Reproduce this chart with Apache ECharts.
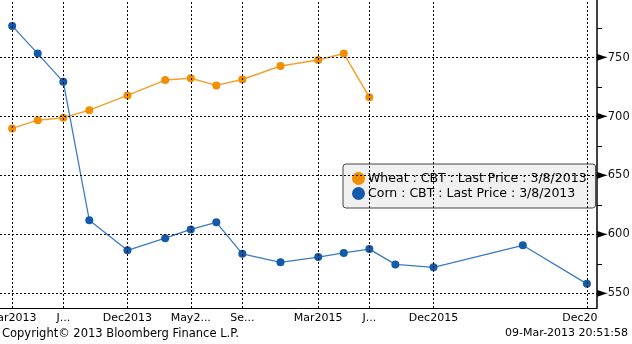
<!DOCTYPE html>
<html>
<head>
<meta charset="utf-8">
<script src="https://cdn.jsdelivr.net/npm/echarts@6/dist/echarts.min.js"></script>
<style>
  html, body { margin: 0; padding: 0; background: #fff; }
  #chart { width: 632px; height: 344px; }
</style>
</head>
<body>
<div id="chart"></div>
<script>
// Futures curve: contract month vs last price (cents/bu)
const contracts = [
  '2013-03-15', '2013-05-15', '2013-07-15', '2013-09-15', '2013-12-15',
  '2014-03-15', '2014-05-15', '2014-07-15', '2014-09-15', '2014-12-15',
  '2015-03-15', '2015-05-15', '2015-07-15', '2015-09-15', '2015-12-15',
  '2016-07-15', '2016-12-15'
];
const wheatPrices = [690, 697, 699, 705.5, 718, 731, 732.5, 726.5, 731.5, 743, 748, 753.5, 716.5];
const cornPrices = [777, 753.5, 729.5, 612, 586.5, 596.75, 604.25, 610.25, 583.5, 576.25, 580.75, 584.25, 587.5, 574.5, 572, 590.75, 558];

const wheatName = 'Wheat : CBT : Last Price : 3/8/2013';
const cornName = 'Corn : CBT : Last Price : 3/8/2013';

// Labelled contract months on the date axis
const xTickDates = ['2013-03-15', '2013-07-15', '2013-12-15', '2014-05-15', '2014-09-15', '2015-03-15', '2015-07-15', '2015-12-15', '2016-12-15'];
const xTickLabels = ['Mar2013', 'J...', 'Dec2013', 'May2...', 'Se...', 'Mar2015', 'J...', 'Dec2015', 'Dec2016'];
const xRange = ['2013-02-14', '2017-01-08'];
const yTicks = [550, 600, 650, 700, 750];
const yMinorTicks = [575, 625, 675, 725, 775];

const FONT = 'DejaVu Sans';

// dates are placed on a plain value axis as UTC milliseconds
const toTime = s => Date.parse(s + 'T00:00:00Z');
const xTickTimes = xTickDates.map(toTime);
const labelAt = v => {
  const i = xTickTimes.indexOf(v);
  return i >= 0 ? xTickLabels[i] : '';
};

const wheatData = wheatPrices.map((v, i) => [toTime(contracts[i]), v]);
const cornData = cornPrices.map((v, i) => [toTime(contracts[i]), v]);

const gridLineStyle = { color: '#000', width: 1, type: [2, 2] };

const chart = echarts.init(document.getElementById('chart'), null, { renderer: 'canvas' });
chart.setOption({
  animation: false,
  backgroundColor: '#fff',
  textStyle: { fontFamily: FONT },
  grid: { left: 0, right: 35, top: 0, bottom: 36, containLabel: false, outerBoundsMode: 'none' },
  legend: {
    data: [wheatName, cornName],
    orient: 'vertical',
    left: 343,
    top: 164,
    z: 1,
    icon: 'circle',
    itemWidth: 13,
    itemHeight: 13,
    itemGap: 2,
    padding: [8, 9, 8, 9],
    backgroundColor: '#f0f0f0',
    borderColor: '#444',
    borderWidth: 1,
    borderRadius: 3,
    selectedMode: false,
    textStyle: { fontFamily: FONT, fontSize: 12.5, color: '#000', padding: [0, 0, 0, -2] }
  },
  xAxis: {
    type: 'value',
    min: toTime(xRange[0]),
    max: toTime(xRange[1]),
    axisLine: { show: true, lineStyle: { color: '#000', width: 1 } },
    axisTick: { show: false },
    splitLine: { show: false },
    axisLabel: {
      customValues: xTickTimes,
      margin: 5,
      fontFamily: FONT,
      fontSize: 11,
      color: '#000',
      formatter: v => labelAt(v)
    }
  },
  yAxis: {
    type: 'value',
    position: 'right',
    min: 537.5,
    max: 799,
    axisLine: { show: true, lineStyle: { color: '#000', width: 1.5 } },
    splitLine: { show: false },
    axisTick: { show: true, customValues: yMinorTicks, length: 5, lineStyle: { color: '#000' } },
    axisLabel: {
      customValues: yTicks,
      margin: 0,
      formatter: v => '{t|\u25BA}{n|' + v + '}',
      rich: {
        t: { fontFamily: FONT, fontSize: 14, color: '#000' },
        n: { fontFamily: FONT, fontSize: 11.5, color: '#111' }
      }
    }
  },
  graphic: [
    // keep the last x label inside the plot width
    { type: 'rect', left: 598, top: 310, shape: { width: 34, height: 16 }, style: { fill: '#fff' }, z: 100 },
    { type: 'text', left: 2, top: 328, z: 100,
      style: { text: 'Copyright\u00A9 2013 Bloomberg Finance L.P.', fontFamily: FONT, fontSize: 11.5, fill: '#000' } },
    { type: 'text', right: 4, top: 328, z: 100,
      style: { text: '09-Mar-2013 20:51:58', fontFamily: FONT, fontSize: 11, fill: '#000' } }
  ],
  series: [
    {
      name: 'grid',
      type: 'line',
      data: [],
      z: 2,
      silent: true,
      markLine: {
        silent: true,
        symbol: 'none',
        label: { show: false },
        lineStyle: gridLineStyle,
        emphasis: { disabled: true },
        data: xTickTimes.map(t => ({ xAxis: t })).concat(yTicks.map(v => ({ yAxis: v })))
      }
    },
    {
      name: wheatName,
      type: 'line',
      data: wheatData,
      z: 3,
      symbol: 'circle',
      symbolSize: 8,
      showAllSymbol: true,
      itemStyle: { color: '#F28F00' },
      lineStyle: { color: '#F4A02E', width: 1.5 }
    },
    {
      name: cornName,
      type: 'line',
      data: cornData,
      z: 4,
      symbol: 'circle',
      symbolSize: 8,
      showAllSymbol: true,
      itemStyle: { color: '#145AAA' },
      lineStyle: { color: '#3A7AC4', width: 1.3 }
    }
  ]
});
</script>
</body>
</html>
